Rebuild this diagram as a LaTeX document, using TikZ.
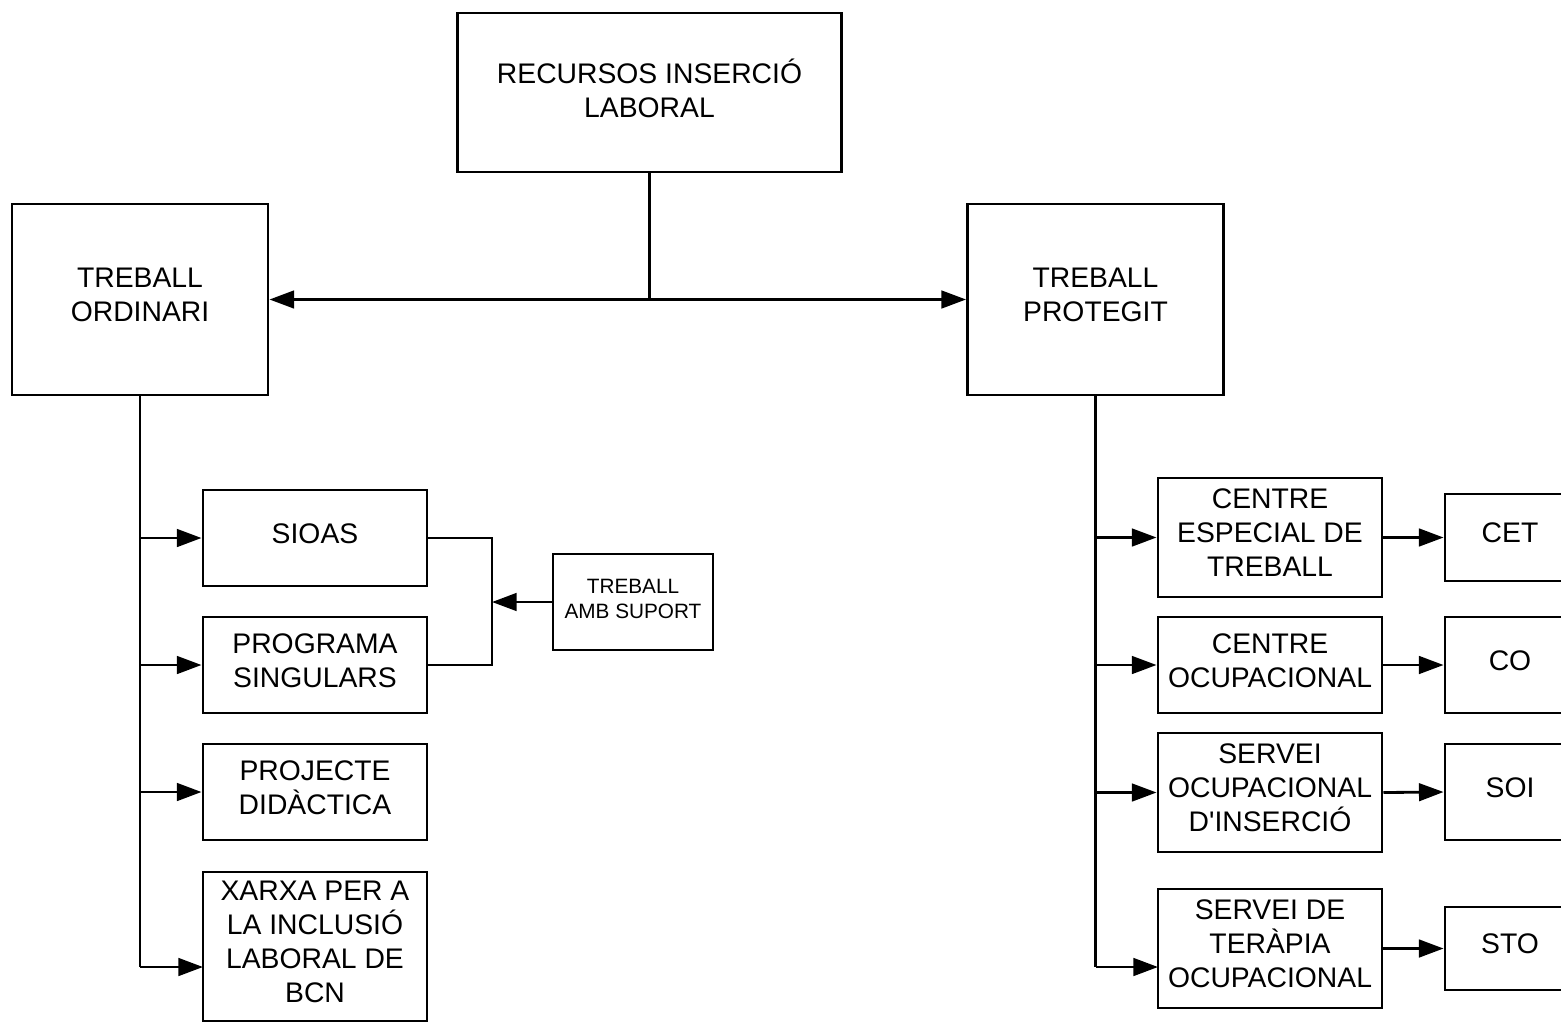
\documentclass[tikz,border=0pt]{standalone}
\usepackage{fontspec}
\setmainfont{Liberation Sans}
\usetikzlibrary{positioning}
\usetikzlibrary{arrows.meta}

\tikzset{
  box/.style={draw, line width=0.8pt, align=center, inner sep=0pt, text depth=2.6pt,
    font=\fontsize{8.05}{9.7}\selectfont},
  smallbox/.style={box, text depth=1.6pt, font=\fontsize{5.9}{7.1}\selectfont},
  wire/.style={line width=0.8pt},
  link/.style={wire, -{Triangle[length=7pt,width=5pt]}},
}

\begin{document}
\begin{tikzpicture}[x=0.01cm, y=-0.01cm]
        \useasboundingbox (0,0) rectangle (1561,1024);
        \clip (0,0) rectangle (1561,1024);
        % top level
        \node[box, minimum width=3.83cm, minimum height=1.59cm] (recursos) at (649.5,92.5) {RECURSOS INSERCIÓ\\LABORAL};
        \node[box, minimum width=2.56cm, minimum height=1.91cm] (ordinari) at (140,299.5) {TREBALL\\ORDINARI};
        \node[box, minimum width=2.56cm, minimum height=1.91cm] (protegit) at (1095.5,299.5) {TREBALL\\PROTEGIT};
        \coordinate (split) at (recursos.south |- ordinari.east);
        \draw [wire] (recursos.south) -- (split);
        \draw [link] (split) -- (ordinari.east);
        \draw [link] (split) -- (protegit.west);

        % treball ordinari
        \node[box, minimum width=2.24cm, minimum height=0.96cm] (sioas) at (315,538) {SIOAS};
        \node[box, minimum width=2.24cm, minimum height=0.96cm] (singulars) at (315,665) {PROGRAMA\\SINGULARS};
        \node[box, minimum width=2.24cm, minimum height=0.96cm] (didactica) at (315,792) {PROJECTE\\DIDÀCTICA};
        \node[box, minimum width=2.24cm, minimum height=1.49cm] (xarxa) at (315,946.5) {XARXA PER A\\LA INCLUSIÓ\\LABORAL DE\\BCN};
        \coordinate (xarxaIn) at (203,967);
        \draw [wire] (ordinari.south) -- (ordinari.south |- xarxaIn);
        \draw [link] (ordinari.south |- sioas.west) -- (sioas.west);
        \draw [link] (ordinari.south |- singulars.west) -- (singulars.west);
        \draw [link] (ordinari.south |- didactica.west) -- (didactica.west);
        \draw [link] (ordinari.south |- xarxaIn) -- (xarxaIn);

        \node[smallbox, minimum width=1.60cm, minimum height=0.96cm] (suport) at (633,602) {TREBALL\\AMB SUPORT};
        \coordinate (join) at (492,602);
        \draw [wire] (sioas.east) -| (join) |- (singulars.east);
        \draw [link] (suport.west) -- (join);

        % treball protegit
        \node[box, minimum width=2.24cm, minimum height=1.19cm] (cet) at (1270,537.5) {CENTRE\\ESPECIAL DE\\TREBALL};
        \node[box, minimum width=2.24cm, minimum height=0.96cm] (co) at (1270,665) {CENTRE\\OCUPACIONAL};
        \node[box, minimum width=2.24cm, minimum height=1.19cm] (soi) at (1270,792.5) {SERVEI\\OCUPACIONAL\\D\textquotesingle INSERCIÓ};
        \node[box, minimum width=2.24cm, minimum height=1.19cm] (sto) at (1270,948.5) {SERVEI DE\\TERÀPIA\\OCUPACIONAL};
        \coordinate (stoIn) at (1158,967);
        \draw [wire] (protegit.south) -- (protegit.south |- stoIn);
        \draw [link] (protegit.south |- cet.west) -- (cet.west);
        \draw [link] (protegit.south |- co.west) -- (co.west);
        \draw [link] (protegit.south |- soi.west) -- (soi.west);
        \draw [link] (protegit.south |- stoIn) -- (stoIn);

        \node[box, minimum width=1.30cm, minimum height=0.87cm] (cetShort) at (1510,537.5) {CET};
        \node[box, minimum width=1.30cm, minimum height=0.96cm] (coShort) at (1510,665) {CO};
        \node[box, minimum width=1.30cm, minimum height=0.96cm] (soiShort) at (1510,792) {SOI};
        \node[box, minimum width=1.30cm, minimum height=0.83cm] (stoShort) at (1510,948.5) {STO};
        \draw [link] (cet.east) -- (cetShort.west);
        \draw [link] (co.east) -- (coShort.west);
        \draw [link] (soi.east) -- (soiShort.west);
        \draw [link] (sto.east) -- (stoShort.west);
\end{tikzpicture}
\end{document}
